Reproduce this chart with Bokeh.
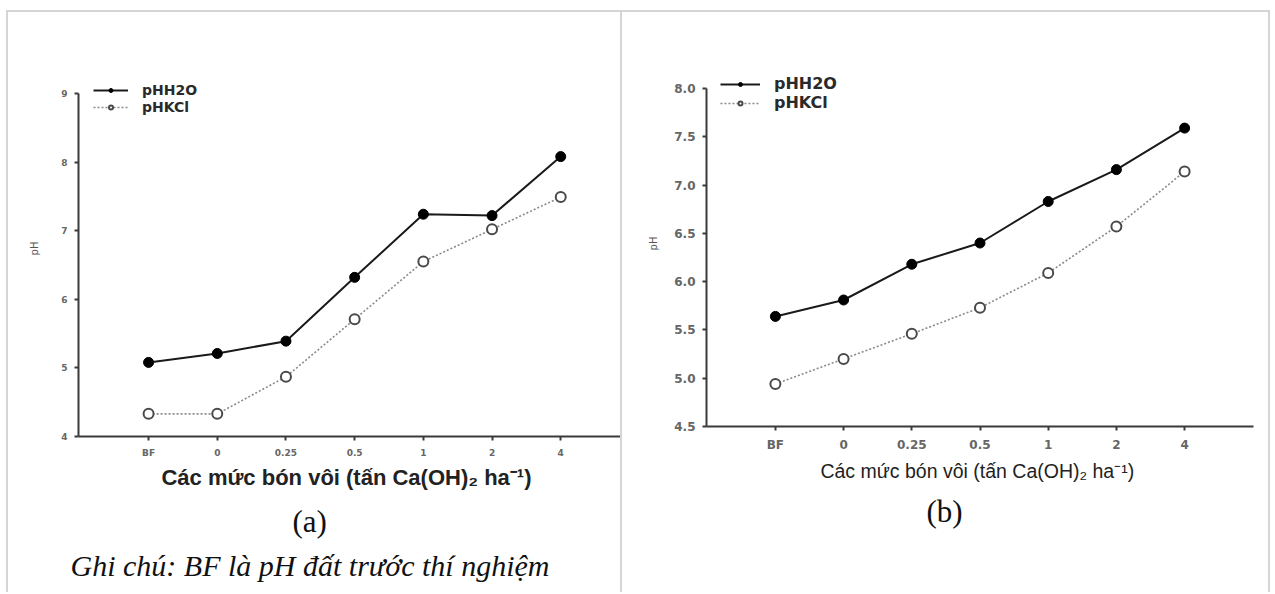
from bokeh.plotting import figure
from bokeh.layouts import row, column
from bokeh.models import (FixedTicker, Legend, LegendItem, Title, Spacer,
                          Range1d, ColumnDataSource, NumeralTickFormatter)
from bokeh.embed import file_html
from bokeh.resources import INLINE

# ---------------- data ----------------
levels = ["BF", "0", "0.25", "0.5", "1", "2", "4"]
ph_h2o_a = [5.08, 5.21, 5.39, 6.32, 7.24, 7.22, 8.08]
ph_kcl_a = [4.33, 4.33, 4.87, 5.71, 6.55, 7.02, 7.49]
ph_h2o_b = [5.64, 5.81, 6.18, 6.40, 6.83, 7.16, 7.59]
ph_kcl_b = [4.94, 5.20, 5.46, 5.73, 6.09, 6.57, 7.14]
yticks_a = [4, 5, 6, 7, 8, 9]
yticks_b = [4.5, 5.0, 5.5, 6.0, 6.5, 7.0, 7.5, 8.0]
series_names = ["pHH2O", "pHKCl"]
x_title = "Các mức bón vôi  (tấn Ca(OH)\u2082 ha\u207b\u00b9)"
caption_a = "(a)"
caption_b = "(b)"
note = "Ghi chú: BF là pH đất trước thí nghiệm"

xpos = list(range(1, len(levels) + 1))
BORDER = "#d5d5d5"
H = 580


def add_legend(p, label, renderers, gx, lfs, lx, ly):
    leg = Legend(items=[LegendItem(label=label, renderers=renderers)],
                 location=(lx, ly), glyph_width=gx, glyph_height=10,
                 label_height=10, spacing=0, padding=0, margin=0,
                 label_standoff=14, label_text_font="DejaVu Sans",
                 label_text_font_style="bold", label_text_font_size=lfs,
                 label_text_color="#2a2a2a", border_line_alpha=0,
                 background_fill_alpha=0)
    p.add_layout(leg, "center")


def panel(width, mb_left, mb_right, mb_top, mb_bottom, x_rng, y_rng, bounds, yticks,
          yfmt, h2o, kcl, tick_size, xstand, ystand, title_size, title_style,
          title_stand, ylab_stand, legend_cfg, msize):
    p = figure(width=width, height=H, output_backend="svg", toolbar_location=None,
               x_range=Range1d(*x_rng), y_range=Range1d(*y_rng),
               min_border_left=mb_left, min_border_right=mb_right,
               min_border_top=mb_top, min_border_bottom=mb_bottom)
    p.outline_line_color = None
    p.grid.visible = False

    src = ColumnDataSource(dict(x=xpos, h2o=h2o, kcl=kcl))
    l1 = p.line("x", "h2o", source=src, line_color="#1a1a1a", line_width=2)
    s1 = p.scatter("x", "h2o", source=src, size=msize, fill_color="#000000",
                   line_color="#000000")
    l2 = p.line("x", "kcl", source=src, line_color="#8a8a8a", line_width=1.6,
                line_dash="2 2")
    s2 = p.scatter("x", "kcl", source=src, size=msize, fill_color="white",
                   line_color="#4a4a4a", line_width=2)

    gx, lfs, lx, ly1, ly2 = legend_cfg
    add_legend(p, series_names[0], [l1, s1], gx, lfs, lx, ly1)
    add_legend(p, series_names[1], [l2, s2], gx, lfs, lx, ly2)

    for ax in (p.xaxis, p.yaxis):
        ax.axis_line_color = "#3a3a3a"
        ax.axis_line_width = 2
        ax.major_tick_line_color = "#3a3a3a"
        ax.major_tick_line_width = 2
        ax.major_tick_out = 4
        ax.major_tick_in = 0
        ax.minor_tick_line_color = None
        ax.major_label_text_font = "DejaVu Sans"
        ax.major_label_text_font_style = "bold"
        ax.major_label_text_font_size = tick_size
        ax.major_label_text_color = "#666666"

    p.xaxis.ticker = FixedTicker(ticks=xpos)
    p.xaxis.major_label_overrides = {i: lab for i, lab in zip(xpos, levels)}
    p.xaxis.major_label_standoff = xstand
    p.xaxis.axis_label = x_title
    p.xaxis.axis_label_text_font = "Liberation Sans"
    p.xaxis.axis_label_text_font_style = title_style
    p.xaxis.axis_label_text_font_size = title_size
    p.xaxis.axis_label_text_color = "#222222"
    p.xaxis.axis_label_standoff = title_stand

    p.yaxis.ticker = FixedTicker(ticks=yticks)
    p.yaxis.bounds = bounds
    p.yaxis.formatter = NumeralTickFormatter(format=yfmt)
    p.yaxis.major_label_standoff = ystand
    p.yaxis.axis_label = "pH"
    p.yaxis.axis_label_text_font = "DejaVu Sans"
    p.yaxis.axis_label_text_font_style = "normal"
    p.yaxis.axis_label_text_font_size = "10px"
    p.yaxis.axis_label_text_color = "#555555"
    p.yaxis.axis_label_standoff = ylab_stand
    return p


# panel (a): frame page x 78..620, y 60..436
pa = panel(612, 70, 0, 48, 156, (-0.02, 7.87), (4, 9.481), (4, 9), yticks_a, "0",
           ph_h2o_a, ph_kcl_a, "9px", 7, 7, "22px", "bold", 4, 18,
           (35, "14px", 15, 338, 321), 10)
# panel (b): frame page x 706..1253, y 60..426
pb = panel(646, 84, 15, 48, 166, (-0.01, 8.01), (4.5, 8.29), (4.5, 8.0), yticks_b,
           "0.0", ph_h2o_b, ph_kcl_b, "12px", 7, 7, "19.5px", "normal", 5, 12,
           (40, "16px", 14, 333, 314), 10)

pa.add_layout(Title(text=caption_a, align="left", offset=214, vertical_align="middle",
                    text_font="Liberation Serif", text_font_size="31px",
                    text_font_style="normal", text_color="#111111", standoff=20),
              "below")
pa.add_layout(Title(text=note, align="left", offset=-8, vertical_align="middle",
                    text_font="Liberation Serif", text_font_size="30px",
                    text_font_style="italic", text_color="#111111", standoff=-4),
              "below")
pb.add_layout(Title(text=caption_b, align="left", offset=220, vertical_align="middle",
                    text_font="Liberation Serif", text_font_size="31px",
                    text_font_style="normal", text_color="#111111", standoff=16),
              "below")


def strip(w, h):
    return Spacer(width=w, height=h, styles={"background-color": BORDER})


layout = column(
    Spacer(width=1275, height=10),
    row(Spacer(width=6, height=2), strip(1264, 2)),
    row(Spacer(width=6, height=H), strip(2, H), column(pa), strip(2, H),
        column(pb), strip(2, H)),
)
open("out.html", "w").write(file_html(layout, INLINE))
